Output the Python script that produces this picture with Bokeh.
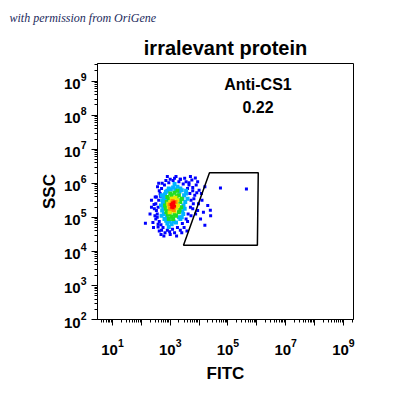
import numpy as np
from bokeh.plotting import figure
from bokeh.models import (Range1d, FixedTicker, LogTickFormatter, Title, Label)
from bokeh.embed import file_html
from bokeh.resources import INLINE

# ---- data (log10 values) ----
title_text = "irralevant protein"
watermark_text = "with permission from OriGene"
gate_name = "Anti-CS1"
gate_value = "0.22"
x_label = "FITC"
y_label = "SSC"

x_decades = [1, 2, 3, 4, 5, 6, 7, 8, 9]
x_labelled = [1, 3, 5, 7, 9]
y_decades = [2, 3, 4, 5, 6, 7, 8, 9]

gate_x_log = [4.36, 6.05, 6.02, 3.46]
gate_y_log = [6.31, 6.31, 4.18, 4.18]

blue_x = [2.55, 2.58, 2.60, 2.65, 2.70, 2.80, 2.95, 3.10, 3.30, 3.45, 3.60, 3.68, 3.72, 3.70, 3.62, 3.55,
          3.42, 3.25, 3.08, 2.90, 2.75, 2.62, 2.50, 2.45, 3.80, 3.85, 3.90, 4.00, 3.95, 4.10, 2.40, 2.62,
          3.00, 3.50, 3.75, 4.20, 4.30, 4.74, 5.64, 4.39, 4.20, 4.40, 2.35, 4.05, 3.20, 2.30, 2.14, 3.87,
          3.65, 3.78, 2.52, 2.68, 3.35, 3.92,
          2.50, 2.52, 2.55, 2.58, 2.66, 2.62, 2.72, 2.85, 3.00, 3.15, 3.35, 3.55, 3.65, 3.78, 3.82, 3.78,
          3.72, 3.60, 3.48, 3.35, 3.15, 2.98, 2.82, 2.70, 2.58, 2.47, 2.44, 2.48, 2.56, 2.68, 3.40, 3.88,
          3.98, 4.08, 3.70, 2.90, 2.60, 2.42, 2.35, 3.58, 3.95, 4.15, 2.78, 3.22]
blue_y = [5.10, 5.30, 5.50, 5.70, 5.85, 5.95, 6.02, 6.08, 6.05, 5.98, 5.85, 5.70, 5.50, 5.30, 5.10, 4.95,
          4.82, 4.70, 4.65, 4.62, 4.70, 4.88, 4.95, 5.25, 5.40, 5.65, 5.95, 5.80, 5.20, 5.50, 4.85, 4.60,
          4.50, 6.15, 6.10, 5.90, 5.35, 5.86, 5.83, 5.21, 4.77, 5.05, 5.50, 4.95, 6.20, 5.10, 4.83, 6.16,
          6.02, 5.88, 5.60, 4.78, 6.12, 5.72,
          5.40, 5.20, 5.00, 4.80, 5.62, 5.78, 6.00, 6.08, 6.12, 6.15, 6.12, 6.05, 5.95, 5.78, 5.55, 5.25,
          5.05, 4.88, 4.70, 4.62, 4.55, 4.58, 4.55, 4.62, 4.72, 5.05, 5.38, 5.60, 5.90, 4.50, 4.55, 5.10,
          5.40, 5.70, 6.20, 6.20, 6.00, 4.70, 5.30, 4.60, 6.05, 5.15, 4.45, 4.45]

cyan_x = [2.72, 2.75, 2.78, 2.85, 2.95, 3.10, 3.25, 3.40, 3.48, 3.52, 3.50, 3.45, 3.35, 3.20, 3.05, 2.90,
          2.80, 2.70, 3.60, 2.68, 3.15, 2.95, 3.55, 2.82,
          2.78, 2.72, 2.82, 2.90, 3.02, 3.18, 3.32, 3.42, 3.46, 3.42, 3.30, 3.12, 2.98, 2.86, 2.76, 3.55,
          3.35, 2.70, 2.88, 3.40]
cyan_y = [5.20, 5.40, 5.60, 5.75, 5.85, 5.88, 5.90, 5.80, 5.65, 5.45, 5.25, 5.10, 4.95, 4.85, 4.80, 4.82,
          4.95, 5.05, 5.55, 5.35, 5.98, 4.72, 5.78, 5.50,
          5.10, 5.50, 5.68, 5.78, 5.82, 5.82, 5.75, 5.55, 5.35, 5.18, 5.00, 4.88, 4.88, 4.90, 5.30, 5.70,
          5.85, 5.65, 5.00, 5.00]

green_x = [2.85, 2.88, 2.90, 3.00, 3.15, 3.30, 3.35, 3.38, 3.30, 3.20, 3.05, 2.92, 2.82, 3.25, 2.95, 3.40,
           2.87, 3.10, 2.90, 2.95, 3.05, 3.22, 3.30, 3.32, 3.15, 2.98, 2.92]
green_y = [5.25, 5.45, 5.60, 5.70, 5.72, 5.65, 5.45, 5.30, 5.15, 5.05, 5.02, 5.08, 5.35, 5.78, 4.95, 5.55,
           5.15, 4.95, 5.35, 5.55, 5.65, 5.62, 5.50, 5.22, 5.08, 5.10, 5.20]

yellow_x = [2.95, 3.00, 3.20, 3.22, 3.10, 3.02, 3.15, 2.93, 3.25, 3.05, 3.18, 2.98, 3.27]
yellow_y = [5.30, 5.45, 5.40, 5.28, 5.55, 5.20, 5.18, 5.40, 5.50, 5.55, 5.58, 5.15, 5.35]

orange_x = [3.00, 3.18, 3.08, 3.12, 2.98]
orange_y = [5.25, 5.45, 5.48, 5.22, 5.38]

red_x = [3.08, 3.12, 3.05, 3.15, 3.10, 3.03, 3.13, 3.07]
red_y = [5.35, 5.40, 5.30, 5.33, 5.28, 5.38, 5.45, 5.42]

tiers = [
    (blue_x, blue_y, "#0000ff", 3),
    (cyan_x, cyan_y, "#00b4ff", 4),
    (green_x, green_y, "#22dd22", 4),
    (yellow_x, yellow_y, "#e8e800", 4),
    (orange_x, orange_y, "#ff8c00", 4),
    (red_x, red_y, "#ff0000", 3),
]

FONT = "Liberation Sans"

p = figure(width=382, height=388, output_backend="svg", toolbar_location=None,
           x_axis_type="log", y_axis_type="log",
           x_range=Range1d(10 ** 0.48, 10 ** 9.35), y_range=Range1d(10 ** 2, 10 ** 9.52),
           min_border_left=97, min_border_right=29, min_border_top=63, min_border_bottom=69)

p.grid.visible = False
p.outline_line_color = "black"
p.outline_line_width = 1
p.background_fill_color = "white"
p.border_fill_color = "white"

p.title.text = watermark_text
p.title.align = "left"
p.title.offset = -88
p.title.text_font = "Liberation Serif"
p.title.text_font_size = "12px"
p.title.text_font_style = "italic"
p.title.text_color = "#1c2a5c"

main_title = Title(text=title_text, align="center", text_font=FONT,
                   text_font_size="20px", text_font_style="bold", text_color="black")
p.add_layout(main_title, "above")


def minors(decs):
    out = []
    for d in range(decs[0] - 1, decs[-1] + 1):
        for k in range(2, 10):
            out.append(k * 10 ** d)
    return out


p.xaxis.ticker = FixedTicker(ticks=[10 ** d for d in x_decades], minor_ticks=minors(x_decades))
p.yaxis.ticker = FixedTicker(ticks=[10 ** d for d in y_decades], minor_ticks=minors(y_decades))
p.xaxis.formatter = LogTickFormatter()
p.yaxis.formatter = LogTickFormatter()
p.xaxis.major_label_overrides = {10 ** d: "" for d in x_decades if d not in x_labelled}

for ax in (p.xaxis[0], p.yaxis[0]):
    ax.axis_line_color = "black"
    ax.major_tick_line_color = "black"
    ax.minor_tick_line_color = "black"
    ax.major_tick_in = 0
    ax.major_tick_out = 6
    ax.minor_tick_in = 0
    ax.minor_tick_out = 3
    ax.major_label_text_font = FONT
    ax.major_label_text_font_size = "15px"
    ax.major_label_text_font_style = "bold"
    ax.major_label_text_color = "black"
    ax.axis_label_text_font = FONT
    ax.axis_label_text_font_size = "17px"
    ax.axis_label_text_font_style = "bold"
    ax.axis_label_text_color = "black"

p.xaxis.axis_label = x_label
p.yaxis.axis_label = y_label
p.xaxis.major_label_standoff = 13
p.xaxis.axis_label_standoff = 6
p.yaxis.major_label_standoff = 5
p.yaxis.axis_label_standoff = 2
p.yaxis.major_label_orientation = "horizontal"

for xs, ys, col, sz in tiers:
    p.scatter([10 ** v for v in xs], [10 ** v for v in ys], marker="square", size=sz,
              fill_color=col, line_color=None)

p.patch([10 ** v for v in gate_x_log], [10 ** v for v in gate_y_log],
        fill_alpha=0, line_color="black", line_width=1.5)

p.add_layout(Label(x=10 ** 6.04, y=10 ** 8.9, text=gate_name, text_align="center",
                   text_baseline="middle", text_font=FONT, text_font_size="16px",
                   text_font_style="bold", text_color="black"))
p.add_layout(Label(x=10 ** 6.04, y=10 ** 8.24, text=gate_value, text_align="center",
                   text_baseline="middle", text_font=FONT, text_font_size="16px",
                   text_font_style="bold", text_color="black"))

open("out.html", "w").write(file_html(p, INLINE))
